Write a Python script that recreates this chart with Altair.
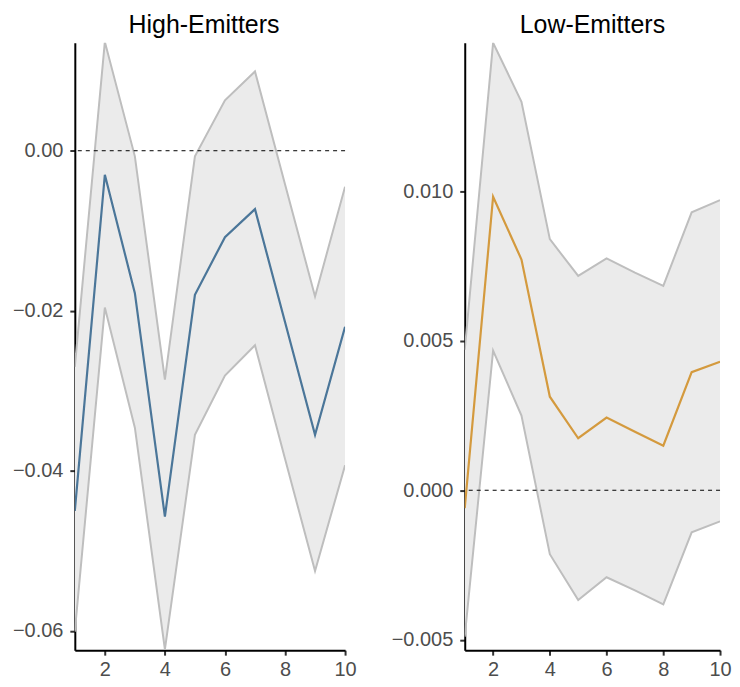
import altair as alt
import pandas as pd

steps = [1, 2, 3, 4, 5, 6, 7, 8, 9, 10]

high_mean = [-0.0450, -0.0030, -0.0178, -0.0457, -0.0180, -0.0108, -0.0073, -0.0214, -0.0355, -0.0220]
high_upper = [-0.0270, 0.0136, -0.0007, -0.0286, -0.0007, 0.0063, 0.0099, -0.0042, -0.0182, -0.0045]
high_lower = [-0.0601, -0.0196, -0.0346, -0.0623, -0.0355, -0.0281, -0.0243, -0.0385, -0.0525, -0.0393]

low_mean = [-0.0006, 0.00982, 0.00772, 0.00313, 0.00174, 0.00243, 0.00196, 0.00149, 0.00395, 0.00430]
low_upper = [0.0047, 0.01497, 0.0130, 0.0084, 0.00717, 0.00776, 0.00728, 0.00684, 0.00930, 0.00971]
low_lower = [-0.0049, 0.00467, 0.00250, -0.00214, -0.00367, -0.00291, -0.00335, -0.00382, -0.00141, -0.00104]

x_ticks = [2, 4, 6, 8, 10]
high_yticks = [0.00, -0.02, -0.04, -0.06]
low_yticks = [0.010, 0.005, 0.000, -0.005]


def panel(title, mean, upper, lower, color, domain, yticks, fmt, width, dx):
    df = pd.DataFrame({"step": steps, "mean": mean, "upper": upper, "lower": lower})
    base = alt.Chart(df)
    xenc = alt.X("step:Q", scale=alt.Scale(domain=[1, 10], nice=False, zero=False),
                 axis=alt.Axis(values=x_ticks, title=None, format="d"))
    ysc = alt.Scale(domain=domain, nice=False, zero=False)
    area = base.mark_area(color="#EBEBEB", opacity=1, clip=True).encode(
        x=xenc,
        y=alt.Y("lower:Q", scale=ysc, axis=alt.Axis(values=yticks, format=fmt, title=None)),
        y2="upper:Q",
    )
    up = base.mark_line(color="#BEBEBE", strokeWidth=2, clip=True).encode(
        x=xenc, y=alt.Y("upper:Q", scale=ysc))
    lo = base.mark_line(color="#BEBEBE", strokeWidth=2, clip=True).encode(
        x=xenc, y=alt.Y("lower:Q", scale=ysc))
    zero = alt.Chart(pd.DataFrame({"z": [0.0]})).mark_rule(
        color="black", strokeDash=[4, 4], strokeWidth=1).encode(y=alt.Y("z:Q", scale=ysc))
    ml = base.mark_line(color=color, strokeWidth=2.2, clip=True).encode(
        x=xenc, y=alt.Y("mean:Q", scale=ysc))
    return alt.layer(area, up, lo, zero, ml).properties(
        width=width, height=609,
        title=alt.TitleParams(title, fontSize=25, font="Liberation Sans", fontWeight="normal",
                              color="black", anchor="middle", offset=5, dx=dx),
    )


left = panel("High-Emitters", high_mean, high_upper, high_lower, "#4B7699",
             [-0.0624, 0.01348], high_yticks, ".2f", 271, -6)
right = panel("Low-Emitters", low_mean, low_upper, low_lower, "#D49A3E",
              [-0.00535, 0.01497], low_yticks, ".3f", 256, 0)

chart = alt.hconcat(left, right, spacing=34).configure_view(stroke=None).configure_axis(
    grid=False,
    domainColor="black",
    domainWidth=2,
    tickColor="#333333",
    tickWidth=2,
    tickSize=5,
    labelFontSize=20,
    labelFont="Liberation Sans",
    labelColor="#4D4D4D",
    labelPadding=7,
    labelFlush=False,
).configure_axisX(labelPadding=4).properties(padding={"left": 4, "top": 4, "right": 0, "bottom": 0})

chart.save("out.html", embed_options={"renderer": "svg", "actions": False})
